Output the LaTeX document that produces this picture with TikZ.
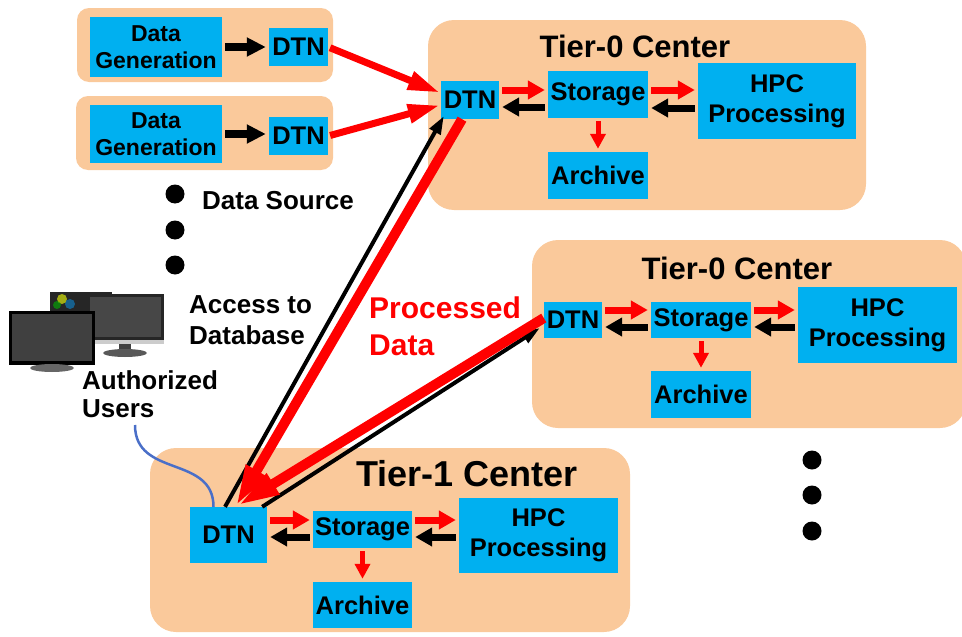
\documentclass[tikz,border=0pt]{standalone}
\usepackage{fontspec}
\setmainfont{Liberation Sans}
\usetikzlibrary{arrows.meta,calc}
\definecolor{peach}{HTML}{FAC99B}
\definecolor{boxblue}{HTML}{00B0F0}
\definecolor{linkred}{HTML}{FF0000}
\definecolor{userblue}{HTML}{4A6FC8}

\begin{document}
\begin{tikzpicture}[x=1pt,y=-1pt,
  site/.style={fill=peach, draw=none, rounded corners=26pt},
  srcsite/.style={fill=peach, draw=none, rounded corners=12pt},
  unit/.style={fill=boxblue, draw=none, inner sep=0pt, align=center,
    font=\fontsize{25.5}{30}\selectfont\bfseries},
  genunit/.style={unit, font=\fontsize{23}{27}\selectfont\bfseries},
  sitetitle/.style={font=\fontsize{31}{36}\selectfont\bfseries, inner sep=0pt},
  txt/.style={font=\fontsize{26}{31}\selectfont\bfseries, align=left, inner sep=0pt},
  dot/.style={circle, fill=black, minimum size=19pt, inner sep=0pt},
  fwd/.style={draw=linkred, line width=7pt, shorten <=3pt, shorten >=3pt,
    -{Triangle[length=17pt,width=18pt]}},
  bwd/.style={draw=black, line width=7pt, shorten <=3pt, shorten >=3pt,
    -{Triangle[length=17pt,width=18pt]}},
  down/.style={draw=linkred, line width=5pt, shorten <=3pt, shorten >=3pt,
    -{Triangle[length=15pt,width=15pt]}},
  gen/.style={draw=black, line width=8pt, shorten <=3pt, shorten >=3pt,
    -{Triangle[length=19pt,width=18pt]}},
  upload/.style={draw=linkred, line width=7pt, shorten <=2pt, shorten >=1pt,
    -{Triangle[length=32pt,width=18pt]}},
  result/.style={draw=linkred, line width=10pt, shorten <=0pt, shorten >=0pt,
    -{Triangle[length=42pt,width=22pt]}},
  request/.style={draw=black, line width=4pt, -{Triangle[length=18pt,width=12pt]}}
]
\useasboundingbox (0,0) rectangle (962,637);

% ---------- site backgrounds ----------
\fill[srcsite] (77,8) rectangle (333,82);
\fill[srcsite] (76,96) rectangle (333,170);
\fill[site] (428,20) rectangle (866,210);
\fill[site] (532,240) rectangle (966,428);
\fill[site] (150,448) rectangle (630,632);

% ---------- data sources ----------
\node[genunit, minimum width=132pt, minimum height=60pt] (g1) at (156,47) {Data\\Generation};
\node[unit, minimum width=59pt, minimum height=38pt] (s1) at (298.5,47) {DTN};
\node[genunit, minimum width=132pt, minimum height=58pt] (g2) at (156,134) {Data\\Generation};
\node[unit, minimum width=59pt, minimum height=38pt] (s2) at (298.5,136) {DTN};
\draw[gen] (g1.east) -- (g1.east -| s1.west);
\draw[gen] (g2.east) -- (g2.east -| s2.west);

\node[dot] (d1) at (175,194) {};
\node[dot] (d2) at (175,230) {};
\node[dot] (d3) at (175,265) {};
\node[txt, anchor=west] (srclbl) at (202,201) {Data Source};

% ---------- Tier-0 center (upper) ----------
\node[sitetitle] (tA) at (635,46) {Tier-0 Center};
\node[unit, minimum width=58pt, minimum height=38pt] (dA) at (470,100) {DTN};
\node[unit, minimum width=100pt, minimum height=47pt] (sA) at (598,94.5) {Storage};
\node[unit, minimum width=158pt, minimum height=76pt] (hA) at (777,101) {HPC\\Processing};
\node[unit, minimum width=100pt, minimum height=47pt] (aA) at (598,175.5) {Archive};
\draw[fwd] ([yshift=4.5pt]sA.west -| dA.east) -- ([yshift=4.5pt]sA.west);
\draw[bwd] ([yshift=-12.5pt]sA.west) -- ([yshift=-12.5pt]sA.west -| dA.east);
\draw[fwd] ([yshift=4.5pt]sA.east) -- ([yshift=4.5pt]sA.east -| hA.west);
\draw[bwd] ([yshift=-13.5pt]sA.east -| hA.west) -- ([yshift=-13.5pt]sA.east);
\draw[down] (sA.south) -- (aA.north);

% ---------- Tier-0 center (lower) ----------
\node[sitetitle] (tB) at (737,268) {Tier-0 Center};
\node[unit, minimum width=58pt, minimum height=36pt] (dB) at (573,320) {DTN};
\node[unit, minimum width=100pt, minimum height=36pt] (sB) at (701,320) {Storage};
\node[unit, minimum width=159pt, minimum height=76pt] (hB) at (877.5,325) {HPC\\Processing};
\node[unit, minimum width=100pt, minimum height=47pt] (aB) at (701,394.5) {Archive};
\draw[fwd] ([yshift=10pt]sB.west -| dB.east) -- ([yshift=10pt]sB.west);
\draw[bwd] ([yshift=-7pt]sB.west) -- ([yshift=-7pt]sB.west -| dB.east);
\draw[fwd] ([yshift=10pt]sB.east) -- ([yshift=10pt]sB.east -| hB.west);
\draw[bwd] ([yshift=-7pt]sB.east -| hB.west) -- ([yshift=-7pt]sB.east);
\draw[down] (sB.south) -- (aB.north);

% ---------- Tier-1 center ----------
\node[sitetitle, font=\fontsize{36}{40}\selectfont\bfseries] (tC) at (467,474) {Tier-1 Center};
\node[unit, minimum width=77pt, minimum height=56pt] (dC) at (228.5,535) {DTN};
\node[unit, minimum width=99pt, minimum height=37pt] (sC) at (362.5,529.5) {Storage};
\node[unit, minimum width=159pt, minimum height=75pt] (hC) at (538.5,535.5) {HPC\\Processing};
\node[unit, minimum width=99pt, minimum height=46pt] (aC) at (362.5,605) {Archive};
\draw[fwd] ([yshift=9.5pt]sC.west -| dC.east) -- ([yshift=9.5pt]sC.west);
\draw[bwd] ([yshift=-7.5pt]sC.west) -- ([yshift=-7.5pt]sC.west -| dC.east);
\draw[fwd] ([yshift=9.5pt]sC.east) -- ([yshift=9.5pt]sC.east -| hC.west);
\draw[bwd] ([yshift=-7.5pt]sC.east -| hC.west) -- ([yshift=-7.5pt]sC.east);
\draw[down] (sC.south) -- (aC.north);

% ---------- wide-area transfers ----------
\draw[upload] (s1.east) -- ([yshift=7pt]dA.west);
\draw[upload] (s2.east) -- ([yshift=-5pt]dA.west);
\draw[request] ([xshift=-3.5pt]dC.north) -- ([xshift=3pt,yshift=3pt]dA.south west);
\draw[result] ([xshift=-8pt]dA.south) -- ([xshift=7pt]dC.north);
\draw[request] ([xshift=-5pt]dC.north east) -- ([xshift=-4pt,yshift=-8pt]dB.west);
\draw[result] ([yshift=2pt]dB.west) -- ([xshift=9pt,yshift=1pt]dC.north);

\node[txt, anchor=west] (acc) at (189,320) {Access to\\Database};
\node[txt, anchor=west, text=linkred, font=\fontsize{30}{37}\selectfont\bfseries] (proc) at (369,326) {Processed\\Data};

% ---------- user workstations ----------
% rear monitor with picture on screen
\fill[black!85] (50,292) rectangle (112,334);
\fill[yellow!85!green, opacity=.7] (62,299) circle[radius=5pt];
\fill[cyan!70!blue, opacity=.6] (70,304) circle[radius=5pt];
\fill[green!70!black, opacity=.6] (57,305) circle[radius=4pt];
% right monitor
\fill[black!20] (87,294) rectangle (164,344);
\fill[black!85] (87,294) rectangle (164,340);
\fill[black!72] (90,297) rectangle (161,337);
\fill[black!75] (119,344) rectangle (131,352);
\fill[black!65] (125,353) ellipse[x radius=22pt, y radius=4pt];
% front monitor
\fill[black] (9,311) rectangle (95,365);
\fill[black!75] (12,314) rectangle (92,361);
\fill[black!60] (52,368) ellipse[x radius=22pt, y radius=4pt];

\node[txt, anchor=west, font=\fontsize{26}{28}\selectfont\bfseries] (usr) at (82,394) {Authorized\\Users};
\coordinate (ulink) at (135,425);
\draw[userblue, line width=2.5pt] (ulink) .. controls (135,478) and ([xshift=-15pt,yshift=52pt]dC.north) .. ([xshift=-15pt]dC.north);

% more centers
\node[dot] (e1) at (812,460) {};
\node[dot] (e2) at (812,495) {};
\node[dot] (e3) at (812,531) {};
\end{tikzpicture}
\end{document}
